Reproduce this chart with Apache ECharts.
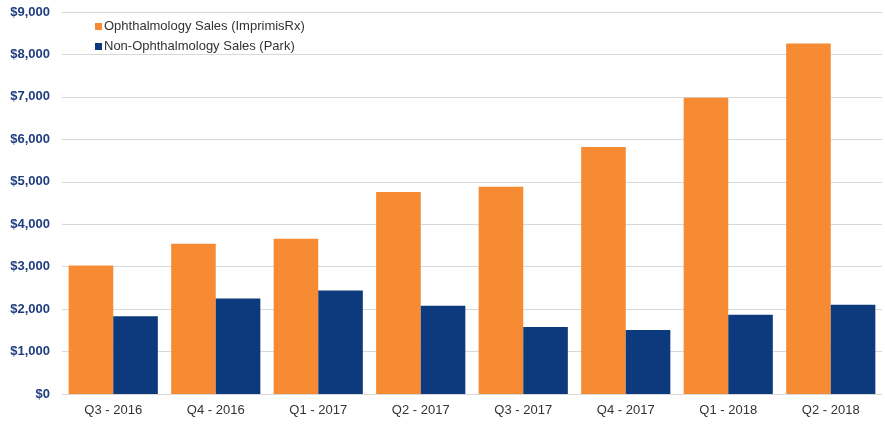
<!DOCTYPE html>
<html>
<head>
<meta charset="utf-8">
<script src="https://cdn.jsdelivr.net/npm/echarts@6/dist/echarts.min.js"></script>
<style>
html,body{margin:0;padding:0;background:#fff;}
#chart{width:885px;height:426px;}
</style>
</head>
<body>
<div id="chart"></div>
<script>
const categories = ["Q3 - 2016","Q4 - 2016","Q1 - 2017","Q2 - 2017","Q3 - 2017","Q4 - 2017","Q1 - 2018","Q2 - 2018"];
const ophthalmology = [3030, 3540, 3660, 4760, 4880, 5820, 6980, 8260];
const nonOphthalmology = [1830, 2250, 2440, 2080, 1580, 1510, 1870, 2100];
const seriesNames = ["Ophthalmology Sales (ImprimisRx)", "Non-Ophthalmology Sales (Park)"];

const chart = echarts.init(document.getElementById('chart'));
chart.setOption({
  animation: false,
  backgroundColor: '#ffffff',
  grid: { left: 62, right: 3, top: 12, bottom: 32, containLabel: false },
  legend: {
    orient: 'vertical',
    left: 90,
    top: 15,
    itemWidth: 7,
    itemHeight: 7,
    itemGap: 7,
    icon: 'rect',
    textStyle: { fontFamily: 'Liberation Sans, Arial, sans-serif', fontSize: 13, color: '#333333', padding: [0,0,0,-3] },
    data: seriesNames
  },
  xAxis: {
    type: 'category',
    data: categories,
    axisTick: { show: false },
    axisLine: { lineStyle: { color: '#D9D9D9', width: 1 } },
    axisLabel: { fontFamily: 'Liberation Sans, Arial, sans-serif', fontSize: 13, color: '#333333', margin: 10 }
  },
  yAxis: {
    type: 'value',
    min: 0,
    max: 9000,
    interval: 1000,
    axisLine: { show: false },
    axisTick: { show: false },
    splitLine: { lineStyle: { color: '#D9D9D9', width: 1 } },
    axisLabel: {
      fontFamily: 'Liberation Sans, Arial, sans-serif',
      fontSize: 13,
      fontWeight: 'bold',
      color: '#1F3D7F',
      margin: 12,
      formatter: v => '$' + v.toLocaleString('en-US')
    }
  },
  series: [
    {
      name: seriesNames[0],
      type: 'bar',
      data: ophthalmology,
      barGap: '0%',
      barCategoryGap: '13%',
      itemStyle: { color: '#F68B33' }
    },
    {
      name: seriesNames[1],
      type: 'bar',
      data: nonOphthalmology,
      barGap: '0%',
      barCategoryGap: '13%',
      itemStyle: { color: '#0C3A7C' }
    }
  ]
});
</script>
</body>
</html>
